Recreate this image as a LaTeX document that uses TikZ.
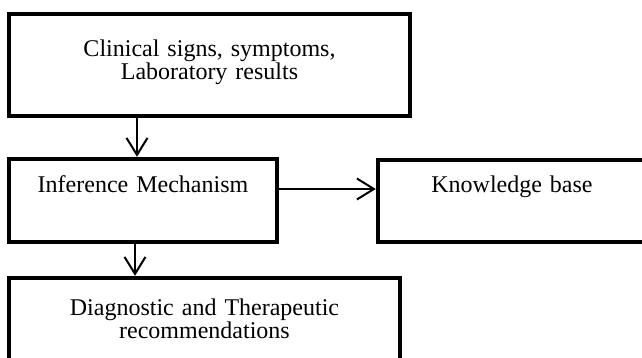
\documentclass[tikz,border=0pt]{standalone}
\usepackage{fontspec}
\setmainfont{Liberation Serif}
\usetikzlibrary{arrows.meta}
\begin{document}
\begin{tikzpicture}[x=1pt,y=-1pt,
  box/.style={draw,line width=4.5pt,inner sep=0pt,outer sep=0pt,anchor=north west,
    align=center,font=\fontsize{24}{23}\selectfont},
  arr/.style={line width=2pt,-{Straight Barb[length=17pt,width=21pt,line width=2pt]},
    shorten >=2.2pt,shorten <=2.2pt}]
\useasboundingbox (0,0) rectangle (642,358);
\node[box,text width=401pt,text height=43pt,text depth=59pt] (clin) at (9,14)
  {Clinical signs, symptoms,\\Laboratory results};
\node[box,text width=268pt,text height=34pt,text depth=49pt] (inf) at (9,159)
  {Inference Mechanism};
\node[box,text width=268pt,text height=33pt,text depth=49pt] (kb) at (378,160)
  {Knowledge base};
\node[box,text width=391pt,text height=37pt,text depth=65pt] (diag) at (9,278)
  {Diagnostic and Therapeutic\\recommendations};
\draw[arr] ([xshift=128pt]clin.south west) -- ([xshift=128pt]inf.north west);
\draw[arr] ([xshift=126pt]inf.south west) -- ([xshift=126pt]diag.north west);
\draw[arr] ([yshift=-30pt]inf.north east) -- ([yshift=-29pt]kb.north west);
\end{tikzpicture}
\end{document}
